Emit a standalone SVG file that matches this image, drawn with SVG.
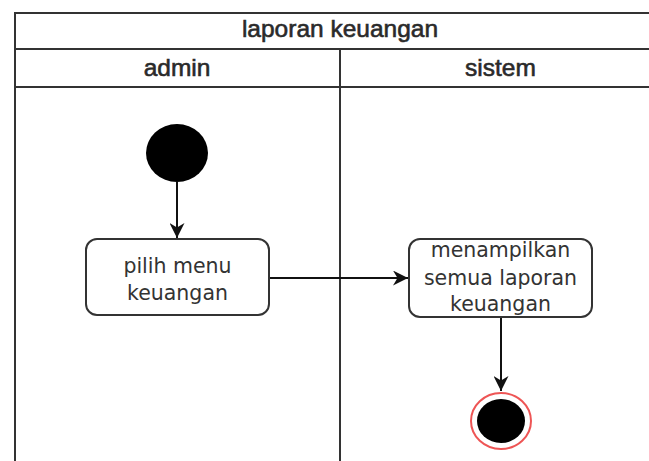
<svg xmlns="http://www.w3.org/2000/svg" width="649" height="461" viewBox="0 0 649 461">
<style>
.frame{fill:none;stroke:#333;stroke-width:2}
.hdr{font-family:"Liberation Sans",Arial,sans-serif;font-size:24.5px;fill:#2a2a2a;stroke:#2a2a2a;stroke-width:0.6;text-anchor:middle}
.act{fill:#fff;stroke:#333;stroke-width:2}
.lbl{font-family:"DejaVu Sans",Verdana,sans-serif;font-size:20.5px;fill:#333;text-anchor:middle}
.conn{fill:none;stroke:#111;stroke-width:2}
</style>
<defs>
<marker id="arr" markerWidth="15" markerHeight="15" refX="10" refY="5" orient="auto" markerUnits="userSpaceOnUse" viewBox="0 0 10 10">
<path d="M0,0 L10,5 L0,10 L3,5 z" fill="#111"/>
</marker>
</defs>
<rect width="649" height="461" fill="#fff"/>
<g id="pool">
<rect class="frame" x="15" y="13" width="660" height="470"/>
<line class="frame" x1="15" y1="49" x2="660" y2="49"/>
<line class="frame" x1="15" y1="87" x2="660" y2="87"/>
<line class="frame" x1="340" y1="49" x2="340" y2="470"/>
<text class="hdr" x="340" y="37">laporan keuangan</text>
<text class="hdr" x="177" y="76">admin</text>
<text class="hdr" x="500.5" y="76">sistem</text>
</g>
<g id="connectors">
<line class="conn" x1="177" y1="182" x2="177" y2="238" marker-end="url(#arr)"/>
<line class="conn" x1="269" y1="278" x2="408" y2="278" marker-end="url(#arr)"/>
<line class="conn" x1="501" y1="317" x2="501" y2="391" marker-end="url(#arr)"/>
</g>
<g id="start">
<ellipse cx="177" cy="153" rx="31" ry="29" fill="#000"/>
</g>
<g id="pilih">
<rect class="act" x="86" y="239" width="183" height="76" rx="11"/>
<text class="lbl" x="177.5" y="273">pilih menu</text>
<text class="lbl" x="177.5" y="300">keuangan</text>
</g>
<g id="menampilkan">
<rect class="act" x="409" y="239" width="183" height="78" rx="11"/>
<text class="lbl" x="500.5" y="257">menampilkan</text>
<text class="lbl" x="500.5" y="285">semua laporan</text>
<text class="lbl" x="500.5" y="311">keuangan</text>
</g>
<g id="end">
<ellipse cx="501" cy="421" rx="30" ry="28" fill="#fff" stroke="#e55" stroke-width="2"/>
<ellipse cx="501" cy="421" rx="24" ry="22" fill="#000"/>
</g>
</svg>
